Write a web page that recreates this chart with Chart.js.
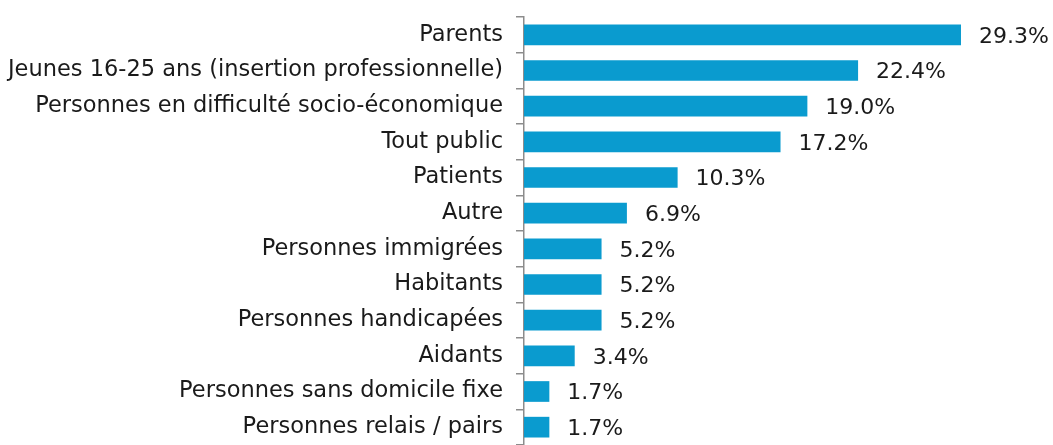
<!DOCTYPE html>
<html>
<head>
<meta charset="utf-8">
<script src="https://cdn.jsdelivr.net/npm/chart.js@4.4.1/dist/chart.umd.min.js"></script>
<style>
  html, body { margin: 0; padding: 0; background: #fff; }
  #wrap { width: 1053px; height: 445px; }
</style>
</head>
<body>
<div id="wrap"><canvas id="myChart" width="1053" height="445"></canvas></div>
<script>
// Data
const categories = [
    "Parents",
    "Jeunes 16-25 ans (insertion professionnelle)",
    "Personnes en difficulté socio-économique",
    "Tout public",
    "Patients",
    "Autre",
    "Personnes immigrées",
    "Habitants",
    "Personnes handicapées",
    "Aidants",
    "Personnes sans domicile fixe",
    "Personnes relais / pairs"
];
const shares = [29.3, 22.4, 19.0, 17.2, 10.3, 6.9, 5.2, 5.2, 5.2, 3.4, 1.7, 1.7];

const FONT = "'DejaVu Sans', sans-serif";

// draws the "29.3%" labels right of each bar
const valueLabels = {
    id: 'valueLabels',
    afterDatasetsDraw(chart) {
        const ctx = chart.ctx;
        const meta = chart.getDatasetMeta(0);
        ctx.save();
        ctx.font = "22px " + FONT;
        ctx.fillStyle = "#1a1a1a";
        ctx.textBaseline = "middle";
        ctx.textAlign = "left";
        meta.data.forEach(function (bar, i) {
            ctx.fillText(shares[i].toFixed(1) + "%", bar.x + 18, bar.y + 2);
        });
        ctx.restore();
    }
};

const ctx = document.getElementById("myChart");
const chart = new Chart(ctx, {
    type: 'bar',
    data: {
        labels: categories,
        datasets: [{
            data: shares,
            backgroundColor: '#0a9bcf',
            borderWidth: 0,
            barPercentage: 0.58,
            categoryPercentage: 1.0
        }]
    },
    options: {
        indexAxis: 'y',
        responsive: false,
        animation: false,
        layout: { padding: { top: 17, right: 7, bottom: -4, left: 0 } },
        plugins: {
            legend: { display: false },
            tooltip: { enabled: false }
        },
        scales: {
            x: {
                display: false,
                min: 0,
                max: 35
            },
            y: {
                afterFit: function (scale) {
                    scale.width = 524;
                    // keep label half-heights from shrinking the plot
                    scale.paddingTop = 0;
                    scale.paddingBottom = 0;
                },
                grid: {
                    offset: true,
                    drawOnChartArea: false,
                    drawTicks: true,
                    tickLength: 8,
                    color: '#8c8c8c',
                    lineWidth: 1.5
                },
                border: { color: '#8c8c8c', width: 1.5 },
                ticks: {
                    padding: 13,
                    color: '#1a1a1a',
                    font: { family: FONT, size: 22.5 }
                }
            }
        }
    },
    plugins: [valueLabels]
});
</script>
</body>
</html>
